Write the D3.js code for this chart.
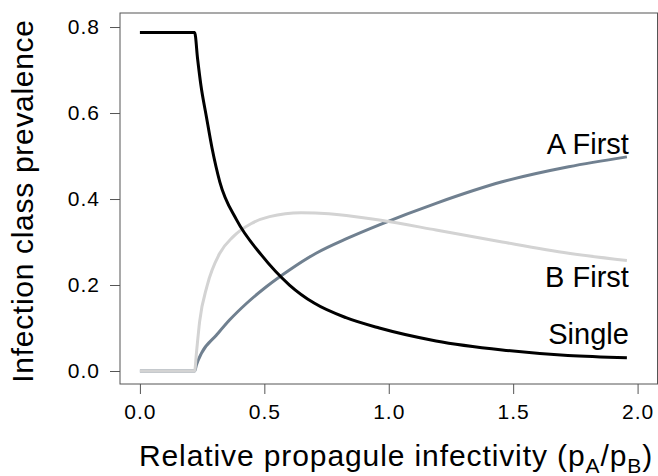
<!DOCTYPE html>
<html>
<head>
<meta charset="utf-8">
<script src="https://cdn.jsdelivr.net/npm/d3@7"></script>
<style>
  body { margin: 0; background: #fff; }
  svg { display: block; font-family: "Liberation Sans", Arial, sans-serif; }
  .tick line { stroke: #555; }
  .tick text { fill: #000; font-size: 21px; letter-spacing: 1px; font-family: "Liberation Sans", Arial, sans-serif; }
  .line { fill: none; stroke-width: 3; stroke-linejoin: round; }
</style>
</head>
<body>
<div id="chart"></div>
<script>
// values
const xTicks = [0, 0.5, 1, 1.5, 2];
const yTicks = [0, 0.2, 0.4, 0.6, 0.8];

const single_x = [0, 0.22, 0.232, 0.245, 0.267, 0.29, 0.321, 0.388, 0.488, 0.601, 0.70, 0.828, 0.962, 1.19, 1.456, 1.72, 1.957];
const single_y = [0.787, 0.787, 0.725, 0.665, 0.592, 0.518, 0.44, 0.352, 0.270, 0.200, 0.158, 0.124, 0.100, 0.070, 0.049, 0.036, 0.031];

const afirst_x = [0, 0.22, 0.227, 0.247, 0.307, 0.361, 0.428, 0.508, 0.601, 0.708, 0.835, 0.962, 1.19, 1.456, 1.723, 1.957];
const afirst_y = [0, 0, 0.014, 0.041, 0.083, 0.119, 0.157, 0.196, 0.235, 0.274, 0.309, 0.340, 0.390, 0.440, 0.475, 0.498];

const bfirst_x = [0, 0.22, 0.227, 0.24, 0.27, 0.321, 0.374, 0.448, 0.521, 0.648, 0.76, 0.962, 1.19, 1.456, 1.723, 1.957];
const bfirst_y = [0, 0, 0.041, 0.115, 0.198, 0.274, 0.312, 0.343, 0.359, 0.368, 0.366, 0.351, 0.328, 0.300, 0.274, 0.257];

// draw order: A first, B first, single on top
const series = [
  {name: 'A First', xs: afirst_x, ys: afirst_y, color: '#708090', dy: -3},
  {name: 'B First', xs: bfirst_x, ys: bfirst_y, color: '#d3d3d3', dy: 26},
  {name: 'Single',  xs: single_x, ys: single_y, color: '#000000', dy: -14}
];

const W = 658, H = 476;
let margin = {top: 13, right: 0.5, bottom: 92, left: 120};

let svg = d3.select('#chart')
  .append('svg')
    .attr('width', W)
    .attr('height', H);

let x = d3.scaleLinear()
  .domain([-0.08, 2.08])
  .range([margin.left, W - margin.right]);

let y = d3.scaleLinear()
  .domain([-0.0302, 0.8326])
  .range([H - margin.bottom, margin.top]);

// axes
let xAxis = svg.append('g')
  .attr('transform', 'translate(0,' + (H - margin.bottom) + ')')
  .call(d3.axisBottom(x).tickValues(xTicks).tickFormat(d3.format('.1f'))
        .tickSize(10).tickSizeOuter(0).tickPadding(10));
xAxis.select('.domain').remove();

let yAxis = svg.append('g')
  .attr('transform', 'translate(' + margin.left + ',0)')
  .call(d3.axisLeft(y).tickValues(yTicks).tickFormat(d3.format('.1f'))
        .tickSize(10).tickSizeOuter(0).tickPadding(10));
yAxis.select('.domain').remove();

// plot box
svg.append('rect')
  .attr('x', margin.left)
  .attr('y', margin.top)
  .attr('width', W - margin.right - margin.left)
  .attr('height', H - margin.bottom - margin.top)
  .attr('fill', 'none')
  .attr('stroke', '#555')
  .attr('stroke-width', 1);

let line = d3.line()
  .x(d => x(d[0]))
  .y(d => y(d[1]))
  .curve(d3.curveMonotoneX);

series.forEach(s => {
  let pts = s.xs.map((v, i) => [v, s.ys[i]]);
  svg.append('path')
    .datum(pts)
    .attr('class', 'line')
    .attr('stroke', s.color)
    .attr('d', line);
});

series.forEach(s => {
  let last = s.xs.length - 1;
  svg.append('text')
    .attr('x', x(s.xs[last]) + 2)
    .attr('y', y(s.ys[last]) + s.dy)
    .attr('text-anchor', 'end')
    .style('font-size', '29px')
    .text(s.name);
});

// axis titles
let xt = svg.append('text')
  .attr('x', 396)
  .attr('y', 466)
  .attr('text-anchor', 'middle')
  .style('font-size', '30px')
  .style('letter-spacing', '0.9px');
xt.append('tspan').text('Relative propagule infectivity (p');
xt.append('tspan').attr('dy', 7).style('font-size', '21px').text('A');
xt.append('tspan').attr('dy', -7).text('/p');
xt.append('tspan').attr('dy', 7).style('font-size', '21px').text('B');
xt.append('tspan').attr('dy', -7).text(')');

svg.append('text')
  .attr('transform', 'translate(33,201) rotate(-90)')
  .attr('text-anchor', 'middle')
  .style('font-size', '30px')
  .style('letter-spacing', '0.7px')
  .text('Infection class prevalence');
</script>
</body>
</html>
